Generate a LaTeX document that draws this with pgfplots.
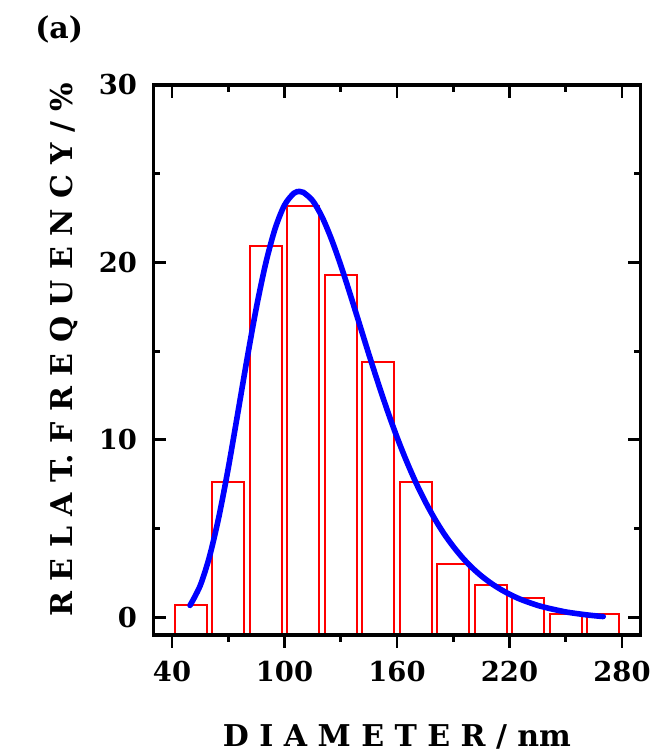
\documentclass[border=0pt]{standalone}
\usepackage{fontspec}
\setmainfont{DejaVu Serif}
\usepackage{pgfplots}
\usepackage{pgfplotstable}
\pgfplotsset{compat=1.18}

\pgfplotstableread{
d h
50 0.7
70 7.6
90 20.9
110 23.2
130 19.3
150 14.4
170 7.6
190 3.0
210 1.8
230 1.1
250 0.2
270 0.2
}\bars

\pgfplotstableread{
x y
49.6 0.67
55 1.78
60 3.43
65 5.67
70 8.41
75 11.46
80 14.55
85 17.46
90 19.96
95 21.91
100 23.23
105 23.90
108 24.00
110 23.95
115 23.48
120 22.57
125 21.32
130 19.84
135 18.21
140 16.52
145 14.82
150 13.18
155 11.61
160 10.15
165 8.82
170 7.61
175 6.53
180 5.57
185 4.72
190 3.99
195 3.35
200 2.80
205 2.33
210 1.93
215 1.59
220 1.30
225 1.05
230 0.85
235 0.67
240 0.53
245 0.41
250 0.30
255 0.22
260 0.15
265 0.09
270 0.04
}\fit

\pgfplotsset{common/.style={
  scale only axis, width=243.7pt, height=275pt,
  xmin=30, xmax=290, xtick={40,100,160,220,280}, minor x tick num=1,
  major tick length=6.5pt, minor tick length=3.5pt,
  tick style={black, line width=1.4pt},
  axis line style={line width=1.7pt},
  /pgf/number format/assume math mode=true,
  ticklabel style={font=\bfseries\fontsize{13.7}{16}\selectfont},
}}

\begin{document}
\begin{tikzpicture}
\useasboundingbox (-76.65pt,-59pt) rectangle (250.35pt,317.5pt);
\begin{axis}[common,
  ymin=0, ymax=31, hide y axis, axis x line*=bottom, tick align=outside,
  xticklabel style={anchor=north, inner sep=0pt, yshift=-6.5pt},
  xlabel={D I A M E T E R / nm},
  xlabel style={font=\bfseries\fontsize{15}{18}\selectfont, at={(axis description cs:0.5,-0.2036)}, anchor=base},
]
\addplot[ybar, bar width=17, draw=red, fill=white, line width=1pt, y filter/.expression={y+1}] table[x=d,y=h]{\bars};
\end{axis}
\begin{axis}[common,
  ymin=-1, ymax=30, ytick={0,10,20,30}, minor y tick num=1,
  tick align=inside, xtick pos=upper, xticklabels={},
  yticklabel style={anchor=east, inner sep=0pt, xshift=-8pt},
  ylabel={R E L A T. F R E Q U E N C Y / \%},
  ylabel style={font=\bfseries\fontsize{15}{18}\selectfont, at={(axis description cs:-0.1648,0.519)}, anchor=base, rotate=0},
]
\addplot[blue, line width=2.8pt, smooth, line cap=round] table[x=x,y=y]{\fit};
\end{axis}
\node[anchor=west, inner sep=0pt, font=\bfseries\fontsize{15}{18}\selectfont] at (-59.2pt,303pt) {(a)};
\end{tikzpicture}
\end{document}
